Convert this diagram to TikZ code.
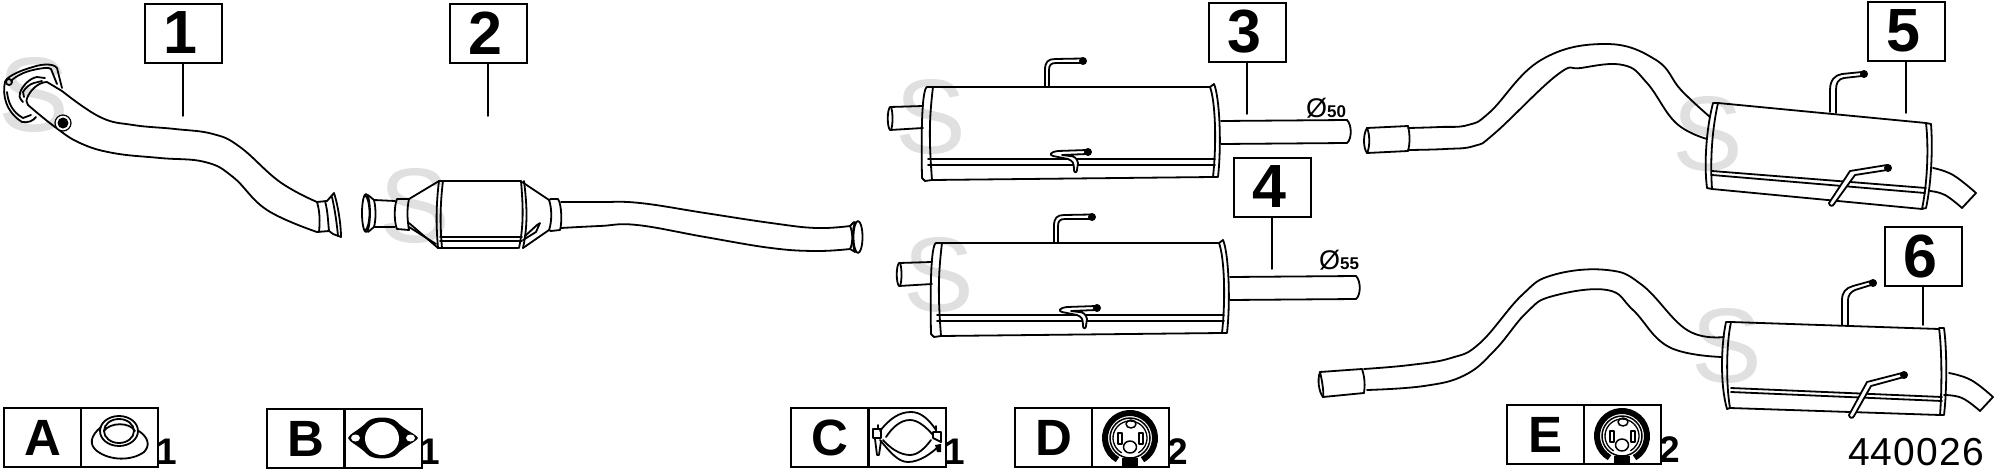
\documentclass[tikz,border=0pt]{standalone}
\usepackage{fontspec}
\setmainfont{Liberation Sans}
\newcommand{\crv}[1]{plot[smooth,tension=.7] coordinates {#1}}
\newcommand{\fsz}[1]{\fontsize{#1}{#1}\selectfont}
\newcommand{\dg}[1]{\kern-6pt #1}
\tikzset{
  pl/.style={line width=1.8pt,line join=round,line cap=round,black},
  thinl/.style={line width=1.5pt,line cap=round,black},
  box/.style={draw=black,line width=2pt,inner sep=0pt,minimum width=77pt,minimum height=59pt,font=\fsz{61}\bfseries},
  legbox/.style={draw=black,line width=2pt,inner sep=0pt,minimum width=77pt,minimum height=59pt,font=\fsz{51}\bfseries},
  qty/.style={inner sep=0pt,font=\fsz{37}\bfseries},
  wm/.style={inner sep=0pt,text=black!12,font=\fsz{106}},
  dia/.style={inner sep=0pt},
  muffler/.pic={
    % body
    \draw[pl] (932,87) -- (1210,87);
    \draw[pl] (932,180) -- (1213,177);
    \draw[pl] (928,159) -- (1215,159) (928,165) -- (1215,165);
    \draw[pl] (927,87) .. controls (922,89) and (921,130) .. (922,178) -- (925,181) -- (932,180) .. controls (929,140) and (929,120) .. (933,87) -- cycle;
    \draw[pl] (1210,87) -- (1214,84) .. controls (1219,95) and (1222,140) .. (1218,177) -- (1213,177) .. controls (1217,140) and (1215,100) .. (1210,87);
    % inlet
    \draw[pl] (923,106) -- (890,107) .. controls (887,110) and (887,127) .. (890,130) -- (923,128);
    \draw[pl] (891,107) .. controls (893,112) and (893,125) .. (891,130);
    % outlet
    \draw[pl] (1221,121) -- (1347,120) .. controls (1352,125) and (1352,139) .. (1347,143) -- (1221,144);
    % upper hanger
    \draw[pl] (1045,86) -- (1045,70) .. controls (1045,62) and (1048,59) .. (1055,59) -- (1082,58.5);
    \draw[pl] (1049,86) -- (1049,70) .. controls (1049,65) and (1051,63) .. (1056,63) -- (1082,63);
    \fill (1083,61) circle[radius=4];
    % lower hanger
    \draw[pl,fill=white] (1087,150) -- (1058,151) .. controls (1050,152) and (1049,155) .. (1053,156) -- (1068,159) .. controls (1073,161) and (1074,163) .. (1074,170) .. controls (1074,173) and (1077,173) .. (1077,170) -- (1078,163) .. controls (1077,158) and (1074,156) .. (1070,156) -- (1062,155) -- (1087,154);
    \fill (1088,152) circle[radius=4];
  },
  bush/.pic={
    \draw[line width=6pt,black] (0,0) ++(120:25) arc[start angle=120,end angle=420,radius=25];
    \draw[pl,line width=1.5pt] (0,0) circle[radius=20];
    \draw[pl,line width=1.3pt] (0,0) ++(120:17) arc[start angle=120,end angle=420,radius=17];
    \draw[pl,line width=1.5pt] (1,-14) ellipse[x radius=5,y radius=4];
    \draw[pl,line width=1.5pt] (0,9) ellipse[x radius=6.5,y radius=6];
    \draw[pl,line width=1.5pt] (-12,-5) rectangle (-8,6);
    \draw[pl,line width=1.5pt] (9,-5) rectangle (13,6);
    \fill (-8,20) rectangle (8,29);
  }
}
\begin{document}
\begin{tikzpicture}[x=1pt,y=-1pt]
\fill[white] (0,0) rectangle (1997,471);
\path[use as bounding box] (0,0) rectangle (1997,471);
% watermarks
\node[wm] (s1) at (34,95) {S};
\node[wm] (s2) at (415,206) {S};
\node[wm] (s3) at (931,117) {S};
\node[wm] (s4) at (939,275) {S};
\node[wm] (s5) at (1708,134) {S};
\node[wm] (s6) at (1727,346) {S};

% PART 1
\draw[pl] (5,82) .. controls (2,95) and (6,112) .. (22,122) .. controls (28,123) and (33,121) .. (36,117);
\draw[pl] (5,82) .. controls (6,78) and (15,72) .. (33,67) .. controls (42,64) and (53,63) .. (57,68) -- (62,88);
\draw[pl] (11,81) .. controls (16,76) and (24,72) .. (33,70) .. controls (42,68) and (49,67) .. (51,69) -- (57,84);
\draw[pl] (7,92) .. controls (8,102) and (12,112) .. (23,118) -- (31,115);
\draw[pl] (9,82) circle[radius=3];
\draw[pl] (23,102) .. controls (19,98) and (19,95) .. (20,93) .. controls (22,86) and (30,78) .. (37,77) -- (45,78);
\draw[pl] (24,97) -- (23,92) .. controls (25,88) and (30,84) .. (34,83) -- (42,81);
\draw[pl] (28,105) .. controls (26,103) and (26,100) .. (28,96) .. controls (32,88) and (40,82) .. (47,82) -- (62,91);
\draw[pl] \crv{(62,91) (100,117) (133,125) (175,129) (213,134) (240,147) (280,182) (317,202)};
\draw[pl] \crv{(28,105) (55,127) (80,143) (113,153) (160,158) (205,162) (233,177) (267,210) (317,232)};
\fill[white] (63,123) circle[radius=8];
\draw[pl,line width=1.2pt] (63,123) circle[radius=8];
\fill (63,123) circle[radius=5.5];
\draw[pl] (317,202) -- (327,201) (317,232) -- (329,231);
\draw[pl] (317,202) .. controls (320,212) and (320,222) .. (319,232);
\draw[pl] (325,201) .. controls (328,212) and (328,222) .. (329,231);
\draw[pl] (327,201) -- (334,193) .. controls (338,205) and (341,225) .. (341,237) -- (333,234) -- (329,231);
\draw[pl] (332,197) .. controls (335,210) and (337,225) .. (338,236);

% PART 2
\draw[pl] (366,213) ellipse[x radius=4,y radius=19];
\draw[pl] (365,195) .. controls (371,200) and (371,226) .. (365,231);
\draw[pl] (368,195) -- (374,200) -- (395,201);
\draw[pl] (368,232) -- (374,227) -- (395,227);
\draw[pl] (374,200) .. controls (376,208) and (376,220) .. (374,227);
\draw[pl] (409,199) -- (397,199) .. controls (394,206) and (394,222) .. (397,229) -- (409,230);
\draw[pl] (409,199) .. controls (407,208) and (407,218) .. (409,230);
\draw[pl] (409,199) -- (439,181) -- (521,181);
\draw[pl] (409,223) -- (438,248) -- (518,248);
\draw[pl] (409,227) -- (436,244);
\draw[pl] (439,181) .. controls (436,205) and (436,225) .. (438,248) (443,181) .. controls (440,205) and (440,225) .. (442,248);
\draw[pl] (521,181) .. controls (523,205) and (524,225) .. (519,248) (524,181) .. controls (527,205) and (528,225) .. (523,248);
\draw[pl] (440,237) -- (522,237) (440,241) -- (522,241);
\draw[pl] (522,182) -- (549,200) (523,248) -- (549,230);
\draw[pl] (523,240) -- (536,232) -- (540,223) -- (537,225) -- (525,236);
\draw[pl] (549,200) -- (551,199) -- (558,199) .. controls (562,205) and (562,224) .. (560,230) -- (551,231) -- (549,230) .. controls (552,222) and (552,208) .. (549,200);
\draw[pl] \crv{(561,202) (600,202) (640,203) (705,213) (771,223) (816,228) (850,226)};
\draw[pl] \crv{(561,228) (600,226) (637,225) (705,237) (771,248) (816,251) (850,249)};
\draw[pl] (850,226) -- (854,222) (850,249) -- (855,252);
\draw[pl] (850,226) .. controls (853,232) and (853,244) .. (850,249);
\draw[pl] (858,237) ellipse[x radius=4.5,y radius=16];
\draw[pl] (855,222) .. controls (852,230) and (852,245) .. (855,252);

% PARTS 3 and 4
\pic (mthree) at (0,0) {muffler};
\pic (mfour) at (9,156) {muffler};
\node[dia,anchor=west] (d50) at (1306,108) {\fsz{27}Ø\fsz{17}\bfseries 50};
\node[dia,anchor=west] (d55) at (1319,260) {\fsz{27}Ø\fsz{17}\bfseries 55};

% PART 5
\draw[pl] (1713,103) .. controls (1706,130) and (1704,165) .. (1707,188) -- (1712,189) .. controls (1710,160) and (1712,130) .. (1718,103) -- cycle;
\draw[pl] (1718,103) -- (1926,123);
\draw[pl] (1712,189) -- (1922,209);
\draw[pl] (1712,171) -- (1926,188) (1712,175) -- (1925,193);
\draw[pl] (1926,123) -- (1931,124) .. controls (1933,150) and (1931,185) .. (1926,208) -- (1922,209) .. controls (1927,185) and (1929,150) .. (1926,123);
\draw[pl] (1367,128) -- (1408,126) (1367,153) -- (1408,151);
\draw[pl] (1367,128) .. controls (1363,134) and (1363,148) .. (1367,153);
\draw[pl] (1367,128) .. controls (1370,134) and (1370,148) .. (1367,153);
\draw[pl] (1408,126) .. controls (1410,134) and (1410,144) .. (1408,151);
\draw[pl] \crv{(1408,128) (1440,127) (1468,125) (1490,112) (1541,60) (1606,44) (1656,60) (1681,90) (1710,117)};
\draw[pl] \crv{(1408,150) (1445,149) (1474,146) (1495,133) (1557,75) (1581,68) (1623,65) (1647,83) (1676,123) (1707,139)};
\draw[pl] \crv{(1933,168) (1953,175) (1976,193)};
\draw[pl] (1976,193) -- (1962,208);
\draw[pl] \crv{(1962,208) (1945,195) (1930,191)};
\draw[pl] (1830,112) -- (1830,90) .. controls (1830,80) and (1835,75) .. (1842,74) -- (1862,72);
\draw[pl] (1836,113) -- (1836,90) .. controls (1836,83) and (1838,79) .. (1844,78) -- (1862,76);
\fill (1864,74) circle[radius=4];
\draw[pl,fill=white] (1887,165) -- (1850,171) -- (1829,203) .. controls (1829,206) and (1833,207) .. (1834,204) -- (1855,175) -- (1887,170);
\fill (1888,168) circle[radius=4];

% PART 6
\draw[pl] (1726,322) .. controls (1721,345) and (1720,385) .. (1727,409) -- (1730,408) .. controls (1726,385) and (1726,345) .. (1731,322) -- cycle;
\draw[pl] (1731,322) -- (1939,329);
\draw[pl] (1730,408) -- (1940,415);
\draw[pl] (1731,388) -- (1942,397) (1731,392) -- (1942,401);
\draw[pl] (1939,328) -- (1944,328) .. controls (1947,350) and (1947,390) .. (1944,415) -- (1940,415) .. controls (1942,390) and (1942,350) .. (1939,328);
\draw[pl] (1320,372) -- (1362,369) (1323,397) -- (1364,393);
\draw[pl] (1320,372) .. controls (1317,380) and (1319,392) .. (1323,397);
\draw[pl] (1320,372) .. controls (1322,380) and (1324,392) .. (1323,397);
\draw[pl] (1362,369) .. controls (1365,378) and (1365,386) .. (1364,393);
\draw[pl] \crv{(1364,369) (1410,365) (1451,358) (1480,343) (1522,295) (1553,275) (1607,270) (1642,285) (1687,330) (1724,337)};
\draw[pl] \crv{(1367,390) (1424,386) (1465,375) (1495,350) (1527,312) (1553,296) (1607,290) (1633,310) (1669,347) (1722,357)};
\draw[pl] \crv{(1949,373) (1971,380) (1993,397)};
\draw[pl] (1993,397) -- (1980,411);
\draw[pl] \crv{(1980,411) (1962,398) (1944,395)};
\draw[pl] (1842,325) -- (1842,300) .. controls (1842,292) and (1846,288) .. (1853,286) -- (1871,281);
\draw[pl] (1848,325) -- (1848,300) .. controls (1848,295) and (1851,292) .. (1855,290) -- (1871,285);
\fill (1873,283) circle[radius=4];
\draw[pl,fill=white] (1902,373) -- (1867,382) -- (1849,415) .. controls (1849,418) and (1853,419) .. (1854,416) -- (1871,386) -- (1904,377);
\fill (1904,375) circle[radius=4];

% LABEL BOXES AND STEMS
\node[box] (b1) at (183,33) {\dg{1}};
\node[box] (b2) at (488,33) {\dg{2}};
\node[box] (b3) at (1247,32) {\dg{3}};
\node[box] (b4) at (1272,187) {\dg{4}};
\node[box] (b5) at (1906,31) {\dg{5}};
\node[box] (b6) at (1923,256) {\dg{6}};
\coordinate (e1) at (183,116);
\coordinate (e2) at (488,116);
\coordinate (e3) at (1247,114);
\coordinate (e4) at (1272,269);
\coordinate (e5) at (1906,113);
\coordinate (e6) at (1923,325);
\foreach \n in {1,...,6} {\draw[thinl] (b\n.south) -- (e\n);}

% LEGEND
\node[legbox] (la) at (42.5,437.5) {A};
\node[legbox] (ia) at (119.5,437.5) {};
\node[qty] (qa) at (167,452) {1};
\draw[pl] (119,431) ellipse[x radius=19,y radius=15];
\draw[pl] (119,431) ellipse[x radius=15,y radius=12];
\draw[pl] (104,431) .. controls (110,422) and (130,422) .. (135,431);
\draw[pl] (101,427) .. controls (90,436) and (89,445) .. (97,451) .. controls (110,461) and (132,461) .. (144,452) .. controls (150,446) and (149,438) .. (139,431);

\node[legbox] (lb) at (305.5,438.5) {B};
\node[legbox] (ib) at (383,438.5) {};
\node[qty] (qb) at (430,452) {1};
\fill[black] (348,438) .. controls (349,434) and (358,431) .. (367,422) .. controls (372,416) and (392,416) .. (397,422) .. controls (406,431) and (416,434) .. (418,438) .. controls (416,442) and (406,445) .. (397,454) .. controls (392,460) and (372,460) .. (367,454) .. controls (358,445) and (349,442) .. (348,438) -- cycle;
\fill[white] (382,438.5) ellipse[x radius=17,y radius=16.5];
\fill[white] (355.5,438) ellipse[x radius=4.5,y radius=3.5];
\fill[white] (410.5,438) ellipse[x radius=4.5,y radius=3.5];

\node[legbox] (lc) at (829.5,437.5) {C};
\node[legbox] (ic) at (907,437.5) {};
\node[qty] (qc) at (955,452) {1};
\draw[pl] (880,431) .. controls (890,418) and (900,412) .. (911,412) .. controls (920,412) and (928,418) .. (936,430);
\draw[pl] (886,437) .. controls (892,428) and (900,420) .. (910,420) .. controls (918,420) and (926,427) .. (933,435);
\draw[pl] (880,440) .. controls (890,452) and (898,462) .. (908,462) .. controls (920,462) and (932,453) .. (940,445);
\draw[pl] (883,440) .. controls (890,448) and (900,455) .. (910,455) .. controls (918,455) and (925,448) .. (931,440);
\draw[pl] (873,429) rectangle (881,438);
\draw[pl] (878,425) -- (878,429) (936,426) -- (936,432);
\draw[pl] (933,432) -- (941,432) -- (941,442) -- (933,438) -- cycle;
\draw[pl] (875,439) -- (877,455) -- (879,455) -- (881,441);
\fill (935,445) -- (941,444) -- (941,452) -- (937,452) -- cycle;

\node[legbox] (ld) at (1053.5,437.5) {D};
\node[legbox] (id) at (1130.5,437.5) {};
\node[qty] (qd) at (1178,452) {2};
\pic (bushd) at (1130,438) {bush};

\node[legbox] (le) at (1545,434.5) {E};
\node[legbox] (ie) at (1622,434.5) {};
\node[qty] (qe) at (1670,450) {2};
\pic (bushe) at (1622,436) {bush};

\node[inner sep=0pt,font=\fsz{39}\addfontfeatures{LetterSpace=3}] (ref) at (1916,452) {440026};
\end{tikzpicture}
\end{document}
